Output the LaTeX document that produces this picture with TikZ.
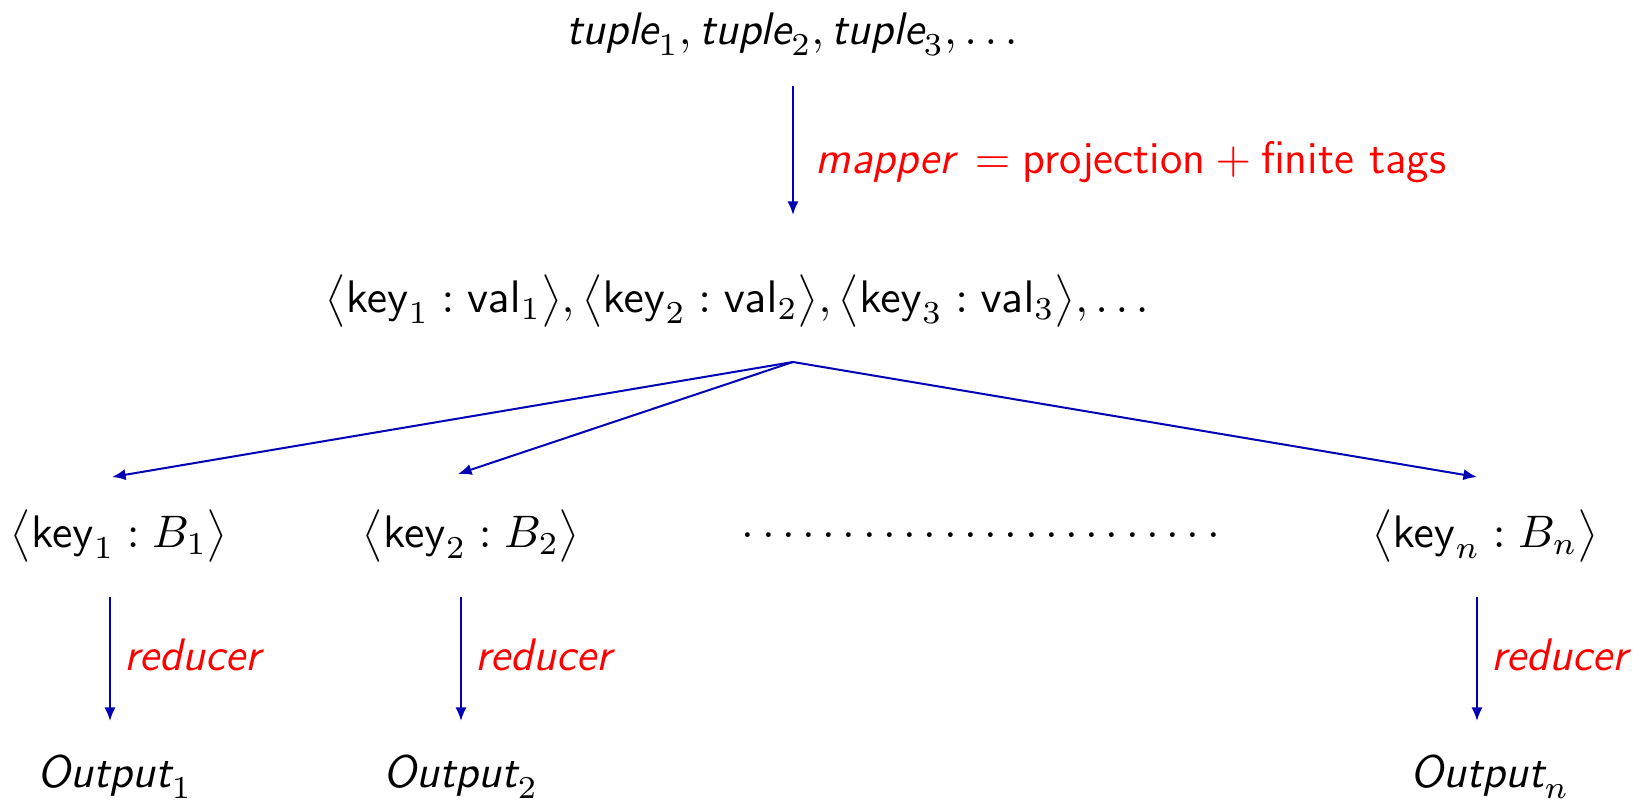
\RequirePackage{fix-cm}
\documentclass[tikz,border=0pt]{standalone}
\usepackage{amsmath}
\usetikzlibrary{arrows.meta}
\renewcommand{\familydefault}{\sfdefault}
\definecolor{arrowblue}{RGB}{0,0,180}
\newcommand{\itsf}[1]{\text{\sffamily\itshape #1}}
\newcommand{\upsf}[1]{\text{\sffamily\upshape #1}}
\begin{document}
\begin{tikzpicture}[x=0.25pt,y=-0.25pt,
  lbl/.style={inner sep=0pt,font=\fontsize{11.4}{13.7}\selectfont},
  redlbl/.style={lbl,text=red,anchor=west},
  conn/.style={draw=arrowblue,line width=0.5pt,-{Latex[length=3.4pt,width=2.8pt]}}]
\useasboundingbox (0,0) rectangle (1643,802);
% nodes
\node[lbl] (top) at (792,34) {$\itsf{tuple}_1, \itsf{tuple}_2, \itsf{tuple}_3, \ldots$};
\node[lbl] (mid) at (737,301) {$\big\langle \mathsf{key}_1 : \mathsf{val}_1 \big\rangle, \big\langle \mathsf{key}_2 : \mathsf{val}_2 \big\rangle, \big\langle \mathsf{key}_3 : \mathsf{val}_3 \big\rangle, \ldots$};
\node[lbl] (k1) at (119,536) {$\big\langle \mathsf{key}_1 : B_1 \big\rangle$};
\node[lbl] (k2) at (471,536) {$\big\langle \mathsf{key}_2 : B_2 \big\rangle$};
\node[lbl] (kd) at (985,536) {$\cdots\cdots\cdots\cdots\cdots\cdots\cdots\cdots$};
\node[lbl] (kn) at (1485,536) {$\big\langle \mathsf{key}_n : B_n \big\rangle$};
\node[lbl] (o1) at (115,777) {$\itsf{Output}_1$};
\node[lbl] (o2) at (461,777) {$\itsf{Output}_2$};
\node[lbl] (on) at (1490,777) {$\itsf{Output}_n$};
% connector end points
\coordinate (ma) at (793,86);
\coordinate (mb) at (793,215);
\coordinate (fan) at (793,362);
\coordinate (t1) at (112,477);
\coordinate (t2) at (458,474);
\coordinate (tn) at (1477,477);
\coordinate (r1a) at (110,597);
\coordinate (r1b) at (110,721);
\coordinate (r2a) at (461,597);
\coordinate (r2b) at (461,721);
\coordinate (rna) at (1477,597);
\coordinate (rnb) at (1477,721);
% connectors
\draw[conn] (ma) -- (mb);
\node[redlbl] (mlbl) at (815,162) {$\itsf{mapper}\, = \upsf{projection} + \upsf{finite tags}$};
\draw[conn] (fan) -- (t1);
\draw[conn] (fan) -- (t2);
\draw[conn] (fan) -- (tn);
\draw[conn] (r1a) -- (r1b);
\draw[conn] (r2a) -- (r2b);
\draw[conn] (rna) -- (rnb);
\node[redlbl] (rl1) at (124,655) {$\itsf{reducer}$};
\node[redlbl] (rl2) at (475,655) {$\itsf{reducer}$};
\node[redlbl] (rln) at (1491,655) {$\itsf{reducer}$};
\end{tikzpicture}
\end{document}
